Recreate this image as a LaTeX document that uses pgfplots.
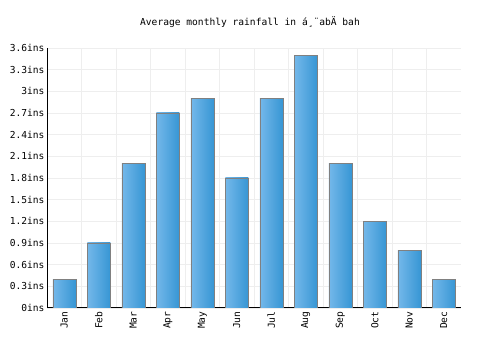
\documentclass[border=0pt]{standalone}
\usepackage{fontspec}
\setmainfont{DejaVu Sans Mono}
\setmonofont{DejaVu Sans Mono}
\usepackage{pgfplots}
\pgfplotsset{compat=1.18}
\definecolor{barL}{HTML}{74B8EA}
\definecolor{barR}{HTML}{3796D4}
\definecolor{barB}{HTML}{808080}
\definecolor{gridc}{HTML}{EEEEEE}
\begin{document}
\begin{tikzpicture}[x=1pt,y=1pt]
\path[use as bounding box] (0,0) rectangle (500,350);
\node[font=\fontsize{9.6}{11}\selectfont] at (250,328) {Average monthly rainfall in á¸¨abÄ bah};
\begin{axis}[
  at={(47pt,42pt)}, anchor=south west,
  scale only axis, width=414pt, height=260pt,
  xmin=-0.5, xmax=11.5, ymin=0, ymax=3.6,
  xtick={0,...,11},
  xticklabels={Jan,Feb,Mar,Apr,May,Jun,Jul,Aug,Sep,Oct,Nov,Dec},
  x tick label style={rotate=90, anchor=east, font=\fontsize{9.6}{11}\selectfont},
  ytick={0,0.3,...,3.61},
  yticklabel={\pgfmathprintnumber{\tick}ins},
  y tick label style={font=\fontsize{9.6}{11}\selectfont, xshift=1pt},
  /pgf/number format/assume math mode=true,
  minor x tick num=1,
  xminorgrids=true, ymajorgrids=true,
  minor grid style={gridc}, major grid style={gridc},
  major tick length=0pt, minor tick length=0pt,
  axis x line*=bottom, axis y line*=left,
  axis line style={black, line width=1pt},
  every outer x axis line/.append style={-}, every outer y axis line/.append style={-},
  ybar, bar width=23pt, bar shift=0pt,
  every axis plot post/.append style={draw=barB, left color=barL, right color=barR, forget plot},
]
\addplot coordinates {(0,0.4)};
\addplot coordinates {(1,0.9)};
\addplot coordinates {(2,2.0)};
\addplot coordinates {(3,2.7)};
\addplot coordinates {(4,2.9)};
\addplot coordinates {(5,1.8)};
\addplot coordinates {(6,2.9)};
\addplot coordinates {(7,3.5)};
\addplot coordinates {(8,2.0)};
\addplot coordinates {(9,1.2)};
\addplot coordinates {(10,0.8)};
\addplot coordinates {(11,0.4)};
\end{axis}
\end{tikzpicture}
\end{document}
